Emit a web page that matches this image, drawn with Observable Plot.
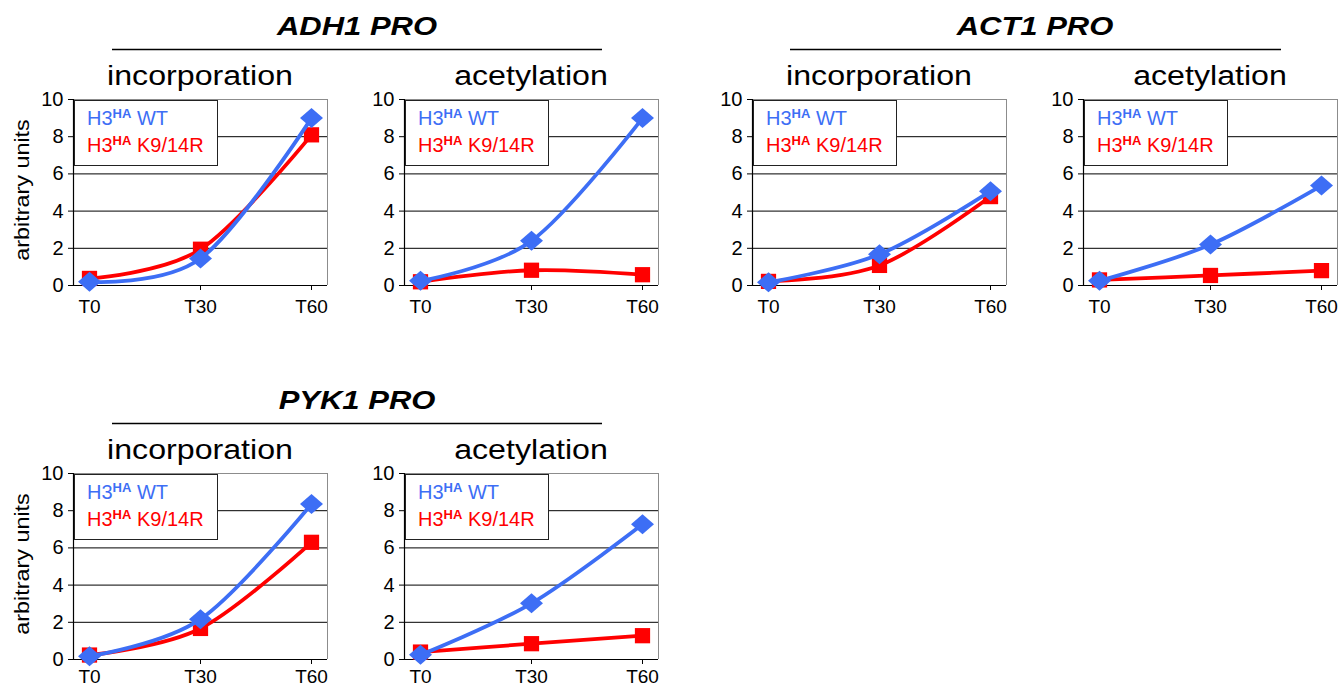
<!DOCTYPE html>
<html><head><meta charset="utf-8">
<script src="https://cdn.jsdelivr.net/npm/d3@7"></script>
<script src="https://cdn.jsdelivr.net/npm/@observablehq/plot@0.6"></script>
<style>
body{margin:0;background:#fff;font-family:"Liberation Sans",Arial,sans-serif;}
#root{position:relative;width:1343px;height:689px;overflow:hidden;background:#fff;}
#root > svg, #root > div{position:absolute;}
</style></head>
<body><div id="root"></div>
<script>
// ---- data ----
const times = ["T0", "T30", "T60"];
const timeValues = [0, 30, 60];
const yTicks = [0, 2, 4, 6, 8, 10];
const gridTicks = [2, 4, 6, 8];
const seriesNames = ["WT", "K9/14R"];

const adh1IncWT = [0.2, 1.45, 9.0];
const adh1IncK = [0.38, 1.95, 8.1];
const adh1AcWT = [0.25, 2.4, 9.0];
const adh1AcK = [0.2, 0.82, 0.58];
const act1IncWT = [0.17, 1.68, 5.07];
const act1IncK = [0.22, 1.08, 4.78];
const act1AcWT = [0.25, 2.2, 5.37];
const act1AcK = [0.3, 0.54, 0.8];
const pyk1IncWT = [0.18, 2.17, 8.36];
const pyk1IncK = [0.24, 1.67, 6.3];
const pyk1AcWT = [0.25, 3.02, 7.27];
const pyk1AcK = [0.4, 0.85, 1.28];

const groups = ["ADH1 PRO", "ACT1 PRO", "PYK1 PRO"];
const subtitles = ["incorporation", "acetylation"];

// ---- style ----
const BLUE = "#3d6ef5", RED = "#ff0000";
const PW = 254, PH = 186;
const ML = 60, MR = 14, MT = 12, MB = 34;
const pad = 30 * 16 / 111;
const xDomain = [timeValues[0] - pad, timeValues[2] + pad];

const diamond = {
  draw(ctx, size) {
    const r = Math.sqrt(size / Math.PI);
    const hw = r * 1.15, hh = r * 1.0;
    ctx.moveTo(0, -hh); ctx.lineTo(hw, 0); ctx.lineTo(0, hh); ctx.lineTo(-hw, 0); ctx.closePath();
  }
};

const panels = [
  {left: 73, top: 99, wt: adh1IncWT, k: adh1IncK, group: 0, sub: 0, ylabel: true, tp: 9},
  {left: 404, top: 99, wt: adh1AcWT, k: adh1AcK, group: 0, sub: 1, tp: 9},
  {left: 752, top: 99, wt: act1IncWT, k: act1IncK, group: 1, sub: 0, tp: 9},
  {left: 1083, top: 99, wt: act1AcWT, k: act1AcK, group: 1, sub: 1, tp: 9},
  {left: 73, top: 473, wt: pyk1IncWT, k: pyk1IncK, group: 2, sub: 0, ylabel: true, tp: 5},
  {left: 404, top: 473, wt: pyk1AcWT, k: pyk1AcK, group: 2, sub: 1, tp: 5}
];

const root = document.getElementById("root");

function makePlot(wt, k, tp) {
  const data = times.map((t, i) => ({x: timeValues[i], wt: wt[i], k: k[i]}));
  return Plot.plot({
    width: ML + PW + MR, height: MT + PH + MB,
    marginLeft: ML, marginRight: MR, marginTop: MT, marginBottom: MB,
    x: {type: "linear", domain: xDomain},
    y: {domain: [yTicks[0], yTicks[yTicks.length - 1]]},
    style: {fontFamily: "'Liberation Sans', Arial, sans-serif", fontSize: "19px", color: "#000", background: "transparent", overflow: "visible"},
    marks: [
      Plot.ruleY(gridTicks, {stroke: "#000", strokeWidth: 1}),
      Plot.ruleY([yTicks[yTicks.length - 1]], {stroke: "#8c8c8c", strokeWidth: 1}),
      Plot.ruleX([xDomain[1]], {stroke: "#8c8c8c", strokeWidth: 1}),
      Plot.ruleY([yTicks[0]], {stroke: "#000", strokeWidth: 1.2}),
      Plot.ruleX([xDomain[0]], {stroke: "#000", strokeWidth: 1.2}),
      Plot.axisY({ticks: yTicks, tickSize: 5, tickPadding: 5, label: null, tickFormat: d => String(d)}),
      Plot.axisX({ticks: timeValues, tickSize: 5, tickPadding: tp, label: null, tickFormat: d => times[timeValues.indexOf(d)]}),
      Plot.line(data, {x: "x", y: "k", stroke: RED, strokeWidth: 3.8, curve: "cardinal"}),
      Plot.dot(data, {x: "x", y: "k", symbol: "square", r: 8.6, fill: RED}),
      Plot.line(data, {x: "x", y: "wt", stroke: BLUE, strokeWidth: 3.8, curve: "cardinal"}),
      Plot.dot(data, {x: "x", y: "wt", symbol: diamond, r: 10, fill: BLUE})
    ]
  });
}

panels.forEach(p => {
  const svg = makePlot(p.wt, p.k, p.tp);
  svg.style.position = "absolute";
  svg.style.left = (p.left - ML) + "px";
  svg.style.top = (p.top - MT) + "px";
  // enlarge the axis tick labels
  d3.select(svg).selectAll("text").each(function() {
    const anchor = this.closest("[text-anchor]");
    const isY = anchor && anchor.getAttribute("text-anchor") === "end";
    this.style.fontSize = isY ? "20px" : "19px";
    this.style.fill = "#000";
  });
  root.appendChild(svg);
});

// ---- overlay: titles, underline, subtitles, legends, y labels ----
const ov = d3.select(root).append("svg")
  .attr("width", 1343).attr("height", 689)
  .style("left", "0px").style("top", "0px")
  .style("font-family", "'Liberation Sans', Arial, sans-serif");

const groupInfo = [
  {cx: 357, x1: 112, x2: 602, top: 99},
  {cx: 1035, x1: 790, x2: 1281, top: 99},
  {cx: 357, x1: 112, x2: 602, top: 473}
];
groupInfo.forEach((g, gi) => {
  const base = g.top - 64;
  ov.append("text").attr("transform", `translate(${g.cx},${base}) scale(1.24,1)`)
    .attr("text-anchor", "middle").attr("font-size", 25).attr("font-weight", "bold").attr("font-style", "italic")
    .text(groups[gi]);
  ov.append("line").attr("x1", g.x1).attr("x2", g.x2).attr("y1", g.top - 49.5).attr("y2", g.top - 49.5)
    .attr("stroke", "#000").attr("stroke-width", 1.4);
});

panels.forEach(p => {
  const cx = p.left + PW / 2;
  ov.append("text").attr("transform", `translate(${cx},${p.top - 14}) scale(1.17,1)`)
    .attr("text-anchor", "middle").attr("font-size", 27.5).text(subtitles[p.sub]);
  // legend
  const lg = ov.append("g").attr("transform", `translate(${p.left + 1},${p.top + 1})`);
  lg.append("rect").attr("x", 0.5).attr("y", 0.5).attr("width", 143).attr("height", 65)
    .attr("fill", "#fff").attr("stroke", "#222").attr("stroke-width", 1);
  [[BLUE, seriesNames[0], 25], [RED, seriesNames[1], 52]].forEach(([c, name, by]) => {
    const t = lg.append("text").attr("x", 13).attr("y", by).attr("fill", c).attr("font-size", 20);
    t.append("tspan").text("H3");
    t.append("tspan").attr("font-size", 13).attr("font-weight", "bold").attr("dy", -7).text("HA");
    t.append("tspan").attr("dy", 7).text("\u00a0" + name);
  });
  if (p.ylabel) {
    ov.append("text").attr("transform", `translate(29,${p.top + PH / 2 - 2}) rotate(-90) scale(1.2,1)`)
      .attr("text-anchor", "middle").attr("font-size", 19.5).text("arbitrary units");
  }
});
</script>
</body></html>
